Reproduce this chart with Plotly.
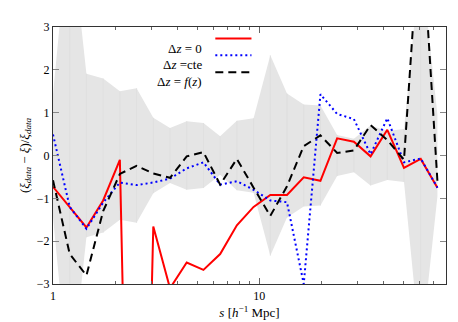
import plotly.graph_objects as go

# separation bins s [h^-1 Mpc] (log spaced)
s = [1.00, 1.205, 1.452, 1.750, 2.109, 2.541, 3.062, 3.690, 4.446, 5.358,
     6.457, 7.780, 9.376, 11.30, 13.61, 16.41, 19.77, 23.82, 28.71, 34.59,
     41.69, 50.23, 60.53, 72.94]

# relative error of the data (grey band is +/- sigma)
sigma = [1.43, 5.5, 1.91, 1.80, 1.50, 1.57, 0.88, 0.64, 0.80, 0.76,
         0.45, 0.81, 0.87, 2.34, 1.45, 1.19, 1.17, 0.48, 0.39, 0.70,
         0.57, 0.62, 4.6, 0.95]

dz_zero = [-0.73, -1.21, -1.68, -1.05, -0.10, -18.0, -1.66, -3.1, -2.5, -2.67,
           -2.3, -1.63, -1.2, -0.92, -0.92, -0.51, -0.59, 0.40, 0.32, -0.02,
           0.60, -0.29, -0.08, -0.75]

dz_cte = [0.49, -1.2, -1.71, -1.1, -0.63, -0.69, -0.63, -0.54, -0.30, -0.16,
          -0.68, -0.60, -0.80, -1.05, -1.09, -3.0, 1.43, 0.97, 0.85, 0.03,
          0.87, -0.16, -0.07, -0.75]

dz_fz = [-0.58, -2.3, -2.8, -1.3, -0.43, -0.24, -0.42, -0.52, -0.02, 0.08,
         -0.68, -0.08, -0.75, -1.41, -0.72, 0.22, 0.47, 0.06, 0.12, 0.71,
         0.36, -0.10, 5.7, -0.6]

names = ["Δ<i>z</i> = 0", "Δ<i>z</i> =cte", "Δ<i>z</i> = <i>f</i>(<i>z</i>)"]
colors = ["#ff0000", "#0000ff", "#000000"]
dashes = ["solid", "2px,3px", "8px,5px"]

font = "Liberation Serif, serif"

fig = go.Figure()

# grey error band
fig.add_trace(go.Scatter(x=s, y=sigma, mode="lines", line=dict(width=0),
                         showlegend=False, hoverinfo="skip"))
fig.add_trace(go.Scatter(x=s, y=[-v for v in sigma], mode="lines",
                         line=dict(width=0), fill="tonexty",
                         fillcolor="#e5e5e5", showlegend=False,
                         hoverinfo="skip"))

# faint vertical seams inside the band
vx, vy = [], []
for xv, sg in zip(s[1:-1], sigma[1:-1]):
    vx += [xv, xv, None]
    vy += [-sg, sg, None]
fig.add_trace(go.Scatter(x=vx, y=vy, mode="lines",
                         line=dict(color="#dcdcdc", width=0.7),
                         showlegend=False, hoverinfo="skip"))

for ys, name, col, dash in zip([dz_zero, dz_cte, dz_fz], names, colors, dashes):
    fig.add_trace(go.Scatter(x=s, y=ys, mode="lines", name=name,
                             line=dict(color=col, width=2, dash=dash),
                             showlegend=False))

# legend drawn by hand: text right aligned, sample line on the right
leg_y = [0.955, 0.890, 0.824]
for name, col, dash, yy in zip(names, colors, dashes, leg_y):
    fig.add_annotation(x=0.384, y=yy, xref="paper", yref="paper",
                       text=name, showarrow=False, xanchor="right",
                       font=dict(family=font, size=13, color="black"))
    fig.add_shape(type="line", xref="paper", yref="paper",
                  x0=0.413, x1=0.505, y0=yy, y1=yy,
                  line=dict(color=col, width=2, dash=dash))

fig.update_layout(
    width=458, height=322,
    margin=dict(l=45, r=20, t=14, b=40),
    plot_bgcolor="white", paper_bgcolor="white",
    font=dict(family=font, size=12, color="black"),
    showlegend=False,
)

fig.update_xaxes(
    type="log", range=[0, 1.9045],
    tickvals=[1, 10], ticktext=["1", "10"],
    ticks="inside", ticklen=6, tickcolor="#666",
    minor=dict(tickvals=[2, 3, 4, 5, 6, 7, 8, 9, 20, 30, 40, 50, 60, 70, 80],
               ticks="inside", ticklen=3, tickcolor="#666"),
    showline=True, linecolor="#333", linewidth=1.2, mirror="allticks",
    showgrid=False, zeroline=False,
    tickfont=dict(size=12),
    title=dict(text="<i>s</i> [<i>h</i><sup>−1</sup> Mpc]", standoff=6,
               font=dict(size=13)),
)

fig.update_yaxes(
    range=[-3, 3], dtick=1, tick0=0,
    ticks="inside", ticklen=6, tickcolor="#888",
    showline=True, linecolor="#333", linewidth=1.2, mirror="allticks",
    showgrid=False, zeroline=False,
    tickfont=dict(size=12),
    title=dict(text="(<i>ξ</i><sub><i>data</i></sub> − <i>ξ</i>)/<i>ξ</i><sub><i>data</i></sub>",
               standoff=4, font=dict(size=13)),
)

fig.write_html("out.html")
